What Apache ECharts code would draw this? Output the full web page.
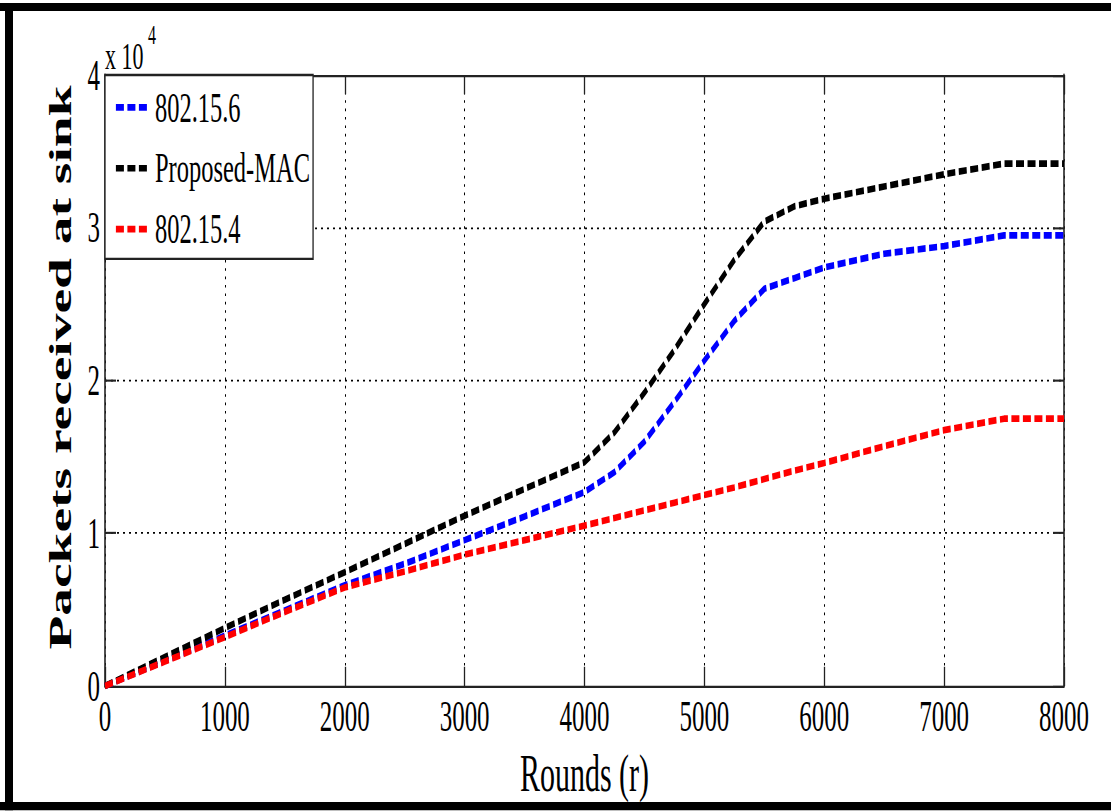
<!DOCTYPE html>
<html>
<head>
<meta charset="utf-8">
<script src="https://cdn.jsdelivr.net/npm/echarts@6/dist/echarts.min.js"></script>
<style>
  html, body { margin: 0; padding: 0; background: #fff; width: 1111px; height: 811px; }
  #chart { width: 1111px; transform-origin: 0 0; }
</style>
</head>
<body>
<div id="chart"></div>
<script>
// Rounds at which the packet counts are sampled
const rounds = [0, 500, 1000, 1500, 2000, 2500, 3000, 3500, 4000, 4250, 4500, 4750,
                5000, 5250, 5500, 5750, 6000, 6500, 7000, 7500, 8000];

// Packets received at the sink for each MAC protocol
const ieee802156 = [0, 1650, 3300, 4950, 6600, 8000, 9550, 11100, 12700, 14000, 16000, 18600,
                    21300, 23900, 26000, 26700, 27400, 28300, 28800, 29500, 29500];
const proposedMac = [0, 1900, 3800, 5650, 7450, 9300, 11150, 12900, 14650, 16600, 19200, 22000,
                     25000, 27900, 30400, 31400, 31900, 32700, 33500, 34200, 34200];
const ieee802154 = [0, 1600, 3200, 4850, 6450, 7500, 8600, 9550, 10500, 11000, 11500, 12000,
                    12500, 13000, 13550, 14100, 14600, 15700, 16750, 17500, 17500];

const seriesNames = ['802.15.6', 'Proposed-MAC', '802.15.4'];
const seriesColors = ['#0000ff', '#000000', '#ff0000'];
const xTitle = 'Rounds (r)';
const yTitle = 'Packets received at sink';

// The figure is laid out in a squashed frame and stretched vertically by K.
const K = 1.75;
const W = 1111, H = 811 / K;
const el = document.getElementById('chart');
el.style.height = H + 'px';
el.style.transform = 'scaleY(' + K + ')';

const SERIF = "'Liberation Serif', 'Times New Roman', serif";
const AX = '#222';
const LINE_W = 3.8;

const pairs = vals => rounds.map((r, i) => [r, vals[i]]);

function lineSeries(idx, vals) {
  return {
    name: seriesNames[idx],
    type: 'line',
    data: pairs(vals),
    symbol: 'none',
    smooth: false,
    animation: false,
    lineStyle: { color: seriesColors[idx], width: LINE_W, type: [8, 3.5], cap: 'butt' },
    itemStyle: { color: seriesColors[idx] }
  };
}

const plotTop = 75 / K, plotBottom = (811 - 686) / K;

const option = {
  animation: false,
  backgroundColor: '#fff',
  grid: { left: 105, right: W - 1064, top: plotTop, bottom: plotBottom, containLabel: false },
  xAxis: [{
    type: 'value', position: 'bottom', min: 0, max: 8000, interval: 1000,
    axisLine: { show: true, onZero: false, lineStyle: { color: AX, width: 1.2 } },
    axisTick: { show: true, inside: true, length: 11, lineStyle: { color: AX, width: 1.3 } },
    axisLabel: { show: true, margin: 5, color: '#000', fontFamily: SERIF, fontSize: 25,
                 formatter: v => String(v) },
    splitLine: { show: true, lineStyle: { color: '#000', width: 1, type: [1.5, 3.3] } },
    name: xTitle, nameLocation: 'middle', nameGap: 25.6,
    nameTextStyle: { color: '#000', fontFamily: SERIF, fontSize: 30 }
  }, {
    type: 'value', position: 'top', min: 0, max: 8000, interval: 1000,
    axisLine: { show: true, onZero: false, lineStyle: { color: AX, width: 1.2 } },
    axisTick: { show: true, inside: true, length: 11, lineStyle: { color: AX, width: 1.3 } },
    axisLabel: { show: false },
    splitLine: { show: false }
  }],
  yAxis: [{
    type: 'value', position: 'left', min: 0, max: 40000, interval: 10000,
    axisLine: { show: true, onZero: false, lineStyle: { color: AX, width: 1.6 } },
    axisTick: { show: true, inside: true, length: 11, lineStyle: { color: AX, width: 1.2 } },
    axisLabel: { show: true, margin: 5, color: '#000', fontFamily: SERIF, fontSize: 25,
                 formatter: v => String(v / 10000) },
    splitLine: { show: true, lineStyle: { color: '#000', width: 1, type: [2, 4] } },
    name: yTitle, nameLocation: 'middle', nameGap: 21, nameRotate: 90,
    nameTextStyle: { color: '#000', fontFamily: SERIF, fontSize: 31.7, fontWeight: 'bold',
                     padding: [0, 0, 0, 14.8] }
  }, {
    type: 'value', position: 'right', min: 0, max: 40000, interval: 10000,
    axisLine: { show: true, onZero: false, lineStyle: { color: AX, width: 1.6 } },
    axisTick: { show: true, inside: true, length: 11, lineStyle: { color: AX, width: 1.2 } },
    axisLabel: { show: false },
    splitLine: { show: false }
  }],
  legend: {
    orient: 'vertical', left: 105, top: plotTop,
    itemWidth: 34, itemHeight: LINE_W, itemGap: 9.8,
    padding: [6.0, 3, 4.5, 9],
    backgroundColor: '#fff', borderColor: AX, borderWidth: 1.3, borderRadius: 0,
    lineStyle: { width: LINE_W, type: [8, 3.5] },
    textStyle: { color: '#000', fontFamily: SERIF, fontSize: 24.5 },
    data: seriesNames
  },
  graphic: [
    // outer frame (top, left, bottom edges)
    { type: 'rect', shape: { x: 0, y: 3 / K, width: W, height: 8 / K }, style: { fill: '#000' }, silent: true },
    { type: 'rect', shape: { x: 5, y: 3 / K, width: 8, height: (811 - 3) / K }, style: { fill: '#000' }, silent: true },
    { type: 'rect', shape: { x: 0, y: 802 / K, width: W, height: 9 / K }, style: { fill: '#000' }, silent: true },
    // axis multiplier
    { type: 'text', x: 105, y: 21.2, style: { text: 'x 10', font: '22px ' + SERIF, fill: '#000', verticalAlign: 'top' }, silent: true },
    { type: 'text', x: 148, y: 11.7, style: { text: '4', font: '16px ' + SERIF, fill: '#000', verticalAlign: 'top' }, silent: true }
  ],
  series: [
    lineSeries(0, ieee802156),
    lineSeries(1, proposedMac),
    lineSeries(2, ieee802154)
  ]
};

const chart = echarts.init(el, null, { renderer: 'svg', width: W, height: H });
chart.setOption(option);
</script>
</body>
</html>
